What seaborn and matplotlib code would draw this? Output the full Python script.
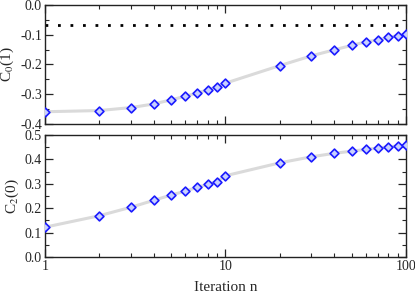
import matplotlib
matplotlib.use("Agg")
import matplotlib.pyplot as plt
import matplotlib.ticker as mticker
import seaborn as sns
import pandas as pd

# iteration numbers
iterations = [1, 2, 3, 4, 5, 6, 7, 8, 9, 10, 20, 30, 40, 50, 60, 70, 80, 90, 100]
# C_0(1) per iteration
c0_values = [-0.359, -0.355, -0.345, -0.333, -0.319, -0.307, -0.296, -0.285, -0.275, -0.263,
             -0.204, -0.171, -0.151, -0.136, -0.124, -0.117, -0.109, -0.103, -0.099]
# C_2(0) per iteration
c2_values = [0.122, 0.169, 0.204, 0.232, 0.254, 0.270, 0.286, 0.298, 0.309, 0.333,
             0.386, 0.411, 0.425, 0.434, 0.441, 0.447, 0.452, 0.455, 0.458]
# reference level in the top panel
c0_reference = -0.066

sns.set_style("ticks")
plt.rcParams["font.family"] = ["Liberation Serif", "DejaVu Serif"]
plt.rcParams["mathtext.fontset"] = "stix"
plt.rcParams["axes.unicode_minus"] = False

df = pd.DataFrame({"n": iterations, "c0": c0_values, "c2": c2_values})

fig = plt.figure(figsize=(4.15, 2.93), dpi=100)
ax_top = fig.add_axes([0.108, 0.577, 0.870, 0.406])
ax_bot = fig.add_axes([0.108, 0.123, 0.870, 0.416], sharex=ax_top)

for ax, col in [(ax_top, "c0"), (ax_bot, "c2")]:
    sns.lineplot(data=df, x="n", y=col, ax=ax, color="#dadada", linewidth=2.2, zorder=1)
    sns.scatterplot(data=df, x="n", y=col, ax=ax, marker="D", s=20,
                    facecolor="#c8d0ff", edgecolor="#1a1aff", linewidth=1.2, zorder=3)

ax_top.axhline(c0_reference, color="black", linestyle=(0, (1, 3.5)), linewidth=2, zorder=2)

ax_top.set_xscale("log")
ax_top.set_xlim(1, 100)
ax_top.set_ylim(-0.4, 0.0)
ax_bot.set_ylim(0.0, 0.5)

ax_top.yaxis.set_major_locator(mticker.MultipleLocator(0.1))
ax_top.yaxis.set_minor_locator(mticker.MultipleLocator(0.05))
ax_bot.yaxis.set_major_locator(mticker.MultipleLocator(0.1))
ax_bot.yaxis.set_minor_locator(mticker.MultipleLocator(0.05))
ax_top.yaxis.set_major_formatter(mticker.FormatStrFormatter("%.1f"))
ax_bot.yaxis.set_major_formatter(mticker.FormatStrFormatter("%.1f"))
ax_bot.xaxis.set_major_formatter(mticker.FuncFormatter(lambda v, p: f"{int(round(v))}"))

for ax in (ax_top, ax_bot):
    ax.tick_params(which="both", direction="in", top=True, right=True, labelsize=10, pad=2)
    ax.tick_params(which="major", length=6, width=0.9)
    ax.tick_params(which="minor", length=3, width=0.8)
    for s in ax.spines.values():
        s.set_linewidth(1.0)
        s.set_color("#222222")

ax_top.tick_params(labelbottom=False)
ax_top.set_xlabel("")
ax_top.set_ylabel(r"C$_0$(1)", fontsize=11, labelpad=3)
ax_bot.set_ylabel(r"C$_2$(0)", fontsize=11, labelpad=3)
ax_bot.set_xlabel("Iteration n", fontsize=11, labelpad=6)

fig.savefig("out.png", dpi=100)
